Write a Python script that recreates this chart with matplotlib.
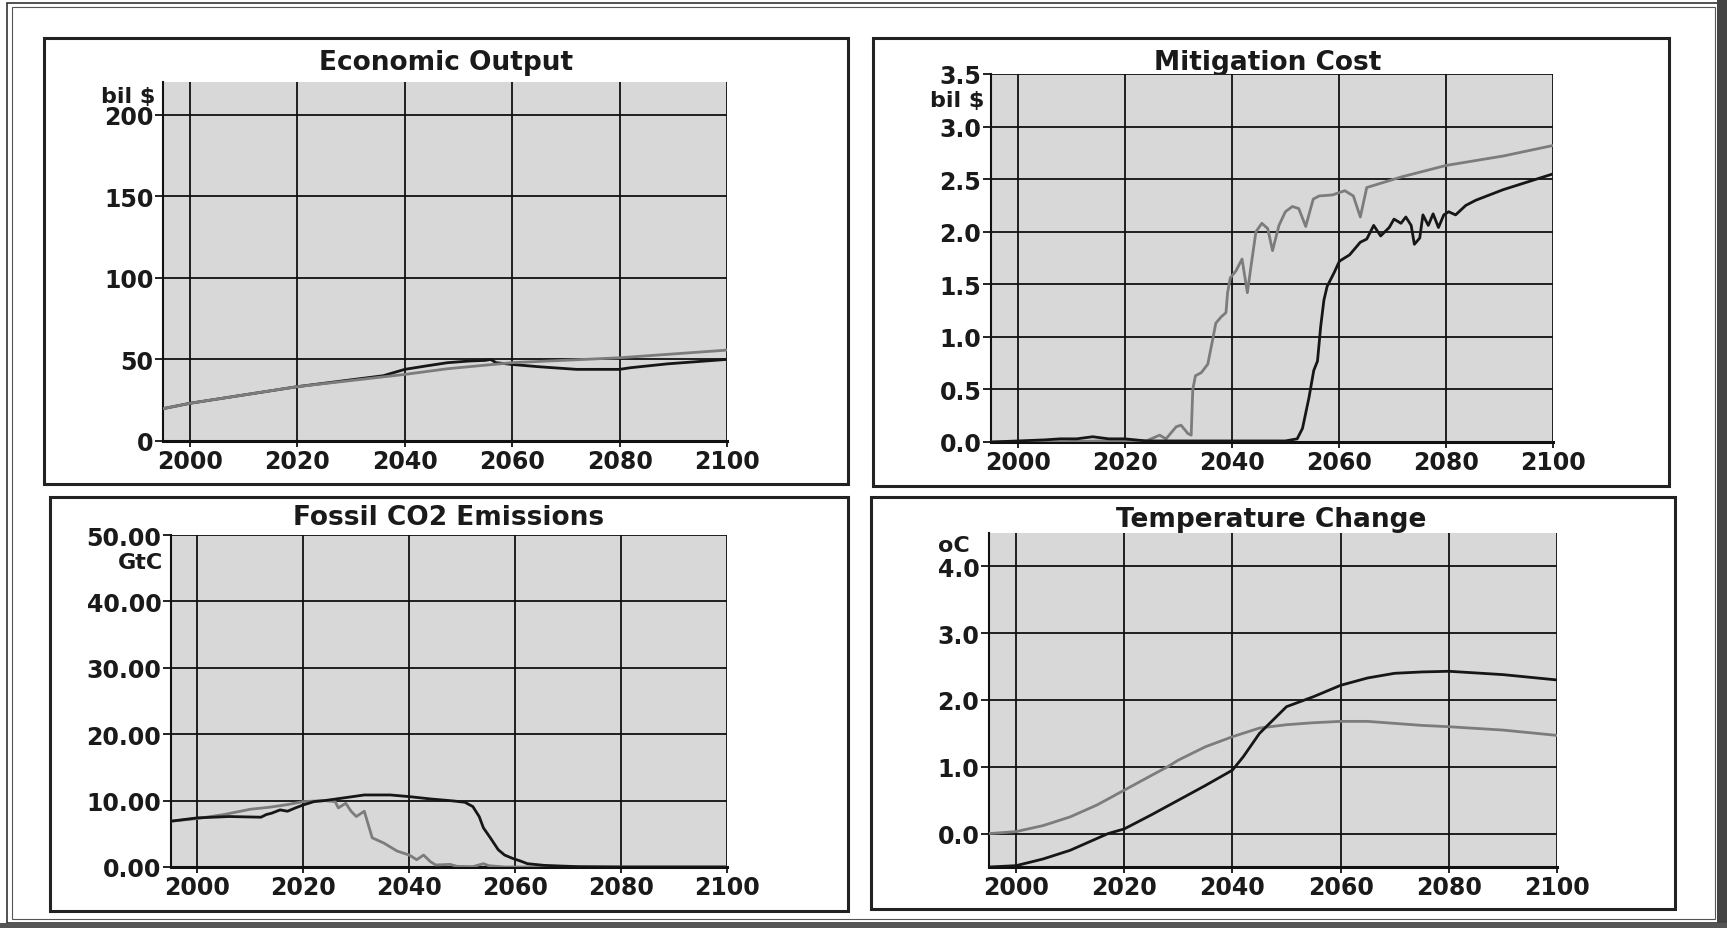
import matplotlib
matplotlib.use("Agg")
import matplotlib.pyplot as plt
from matplotlib.patches import Rectangle

# ---------------- data ----------------
xticks = [2000, 2020, 2040, 2060, 2080, 2100]

# Economic Output (bil $)
eco_gray_years = [1995, 2000, 2020, 2040, 2048, 2060, 2080, 2100]
eco_gray = [19.8, 23.1, 33.3, 40.8, 44.3, 48.0, 51.0, 55.7]
eco_black_years = [1995, 2000, 2020, 2036, 2040, 2044, 2048, 2052, 2055, 2056, 2057,
                   2060, 2065, 2072, 2080, 2082, 2089, 2100]
eco_black = [19.8, 23.1, 33.3, 40.0, 43.9, 46.0, 48.0, 49.0, 49.4, 50.0, 48.0,
             46.9, 45.5, 43.9, 43.9, 44.9, 47.3, 50.0]
eco_yticks = [0, 50, 100, 150, 200]
eco_ylabels = ["0", "50", "100", "150", "200"]

# Mitigation Cost (bil $)
mit_gray_years = [1995, 2005, 2015, 2024, 2026.5, 2027.7, 2029.6, 2030.5, 2031.8, 2032.4,
                  2032.7, 2033.2, 2034.3, 2035.5, 2036.4, 2037, 2038, 2038.9, 2039.2,
                  2039.7, 2040.8, 2041.9, 2042.9, 2043.6, 2044.5, 2045.6, 2046.7, 2047.6,
                  2048.8, 2050, 2051.3, 2052.5, 2053.8, 2055.2, 2056.3, 2058.8, 2061.1,
                  2062.7, 2064, 2065.2, 2071.6, 2080, 2090.7, 2100]
mit_gray = [0.0, 0.0, 0.01, 0.01, 0.065, 0.03, 0.145, 0.16, 0.08, 0.065,
            0.5, 0.63, 0.66, 0.74, 0.97, 1.13, 1.19, 1.23, 1.42,
            1.56, 1.63, 1.74, 1.42, 1.68, 2.0, 2.08, 2.03, 1.82,
            2.06, 2.19, 2.24, 2.22, 2.05, 2.31, 2.34, 2.35, 2.39,
            2.34, 2.14, 2.42, 2.52, 2.63, 2.72, 2.82]
mit_black_years = [1995, 2000, 2005, 2008, 2011, 2014, 2017, 2020, 2024, 2030, 2040, 2050,
                   2052.2, 2053.2, 2054.4, 2055.3, 2056, 2056.6, 2057.2, 2057.8, 2059.1,
                   2060.1, 2062, 2064, 2065.2, 2066.5, 2067.8, 2069.4, 2070.3, 2071.6,
                   2072.5, 2073.5, 2074.1, 2075.1, 2075.7, 2076.7, 2077.6, 2078.6, 2079.6,
                   2080.5, 2081.8, 2083.7, 2085.6, 2090.7, 2100]
mit_black = [0.0, 0.01, 0.02, 0.03, 0.03, 0.05, 0.03, 0.03, 0.01, 0.01, 0.01, 0.01,
             0.03, 0.13, 0.42, 0.68, 0.77, 1.1, 1.35, 1.48, 1.61,
             1.72, 1.78, 1.9, 1.93, 2.06, 1.96, 2.04, 2.12, 2.08,
             2.14, 2.06, 1.88, 1.94, 2.16, 2.06, 2.17, 2.04, 2.16,
             2.19, 2.16, 2.25, 2.3, 2.4, 2.55]
mit_yticks = [0.0, 0.5, 1.0, 1.5, 2.0, 2.5, 3.0, 3.5]
mit_ylabels = ["0.0", "0.5", "1.0", "1.5", "2.0", "2.5", "3.0", "3.5"]

# Fossil CO2 Emissions (GtC)
co2_gray_years = [1995, 2000, 2005, 2010, 2013.6, 2017, 2020, 2024, 2026, 2026.6, 2028,
                  2029, 2030, 2031.5, 2033, 2035.2, 2037.7, 2040, 2041.4, 2042.7, 2044,
                  2045, 2047.7, 2049, 2052, 2054, 2055, 2058, 2100]
co2_gray = [6.9, 7.3, 7.9, 8.7, 9.0, 9.4, 9.85, 10.0, 9.85, 8.9, 9.6,
            8.4, 7.6, 8.4, 4.4, 3.6, 2.4, 1.8, 1.1, 1.8, 0.8,
            0.3, 0.4, 0.1, 0.05, 0.5, 0.2, 0.0, 0.0]
co2_black_years = [1995, 2000, 2006, 2012, 2013, 2014, 2015.6, 2017, 2018.5, 2020, 2022,
                   2024, 2028, 2031.5, 2036.4, 2040, 2044, 2048.3, 2050.5, 2052, 2053.2,
                   2054, 2055.3, 2056.8, 2058, 2059.5, 2061, 2062.3, 2065.4, 2068.5,
                   2072, 2080, 2100]
co2_black = [6.9, 7.4, 7.6, 7.5, 7.9, 8.1, 8.6, 8.4, 8.9, 9.35, 9.85,
             10.0, 10.45, 10.85, 10.85, 10.6, 10.25, 9.95, 9.75, 9.1, 7.6,
             5.9, 4.4, 2.6, 1.8, 1.3, 0.9, 0.5, 0.25, 0.15,
             0.05, 0.0, 0.0]
co2_yticks = [0, 10, 20, 30, 40, 50]
co2_ylabels = ["0.00", "10.00", "20.00", "30.00", "40.00", "50.00"]

# Temperature Change (oC)
tmp_gray_years = [1995, 2000, 2005, 2010, 2015, 2020, 2025, 2028, 2030, 2035, 2040, 2045,
                  2050, 2055, 2060, 2065, 2070, 2075, 2080, 2090, 2100]
tmp_gray = [0.0, 0.03, 0.12, 0.25, 0.43, 0.65, 0.87, 1.0, 1.1, 1.3, 1.45, 1.58,
            1.63, 1.66, 1.68, 1.68, 1.65, 1.62, 1.6, 1.55, 1.47]
tmp_black_years = [1995, 2000, 2005, 2010, 2017, 2020, 2025, 2030, 2035, 2040, 2042, 2045,
                   2050, 2055, 2060, 2065, 2070, 2075, 2080, 2090, 2100]
tmp_black = [-0.5, -0.48, -0.38, -0.25, 0.0, 0.07, 0.28, 0.5, 0.72, 0.95, 1.15, 1.5,
             1.9, 2.05, 2.22, 2.33, 2.4, 2.42, 2.43, 2.38, 2.3]
tmp_yticks = [0.0, 1.0, 2.0, 3.0, 4.0]
tmp_ylabels = ["0.0", "1.0", "2.0", "3.0", "4.0"]

# ---------------- layout ----------------
W, H = 1727, 929
fig = plt.figure(figsize=(W / 100, H / 100), dpi=100)
fig.patch.set_facecolor("white")

FONT = "DejaVu Sans"
TXT = "#1a1a1a"
PLOT_BG = "#d8d8d8"
GRAY_LINE = "#7c7c7c"
BLACK_LINE = "#161616"
TICK_FS = 17

# background pixel-space axes for frames and titles
bg = fig.add_axes([0, 0, 1, 1])
bg.set_xlim(0, W)
bg.set_ylim(H, 0)
bg.axis("off")
bg.set_zorder(-5)

# outer frame
bg.add_patch(Rectangle((7, 4), W - 14, H - 9, fill=False, ec="#333333", lw=1.2))
bg.add_patch(Rectangle((12, 8), W - 24, H - 17, fill=False, ec="#555555", lw=0.8))
bg.add_patch(Rectangle((W - 10, 0), 10, H, fc="#444444", ec="none"))
bg.add_patch(Rectangle((0, H - 5), W, 5, fc="#555555", ec="none"))

# panel boxes (left, top, right, bottom) in pixels
boxes = [(44, 39, 848, 485), (873, 39, 1669, 487),
         (50, 498, 848, 912), (871, 498, 1675, 910)]
for (l, t, r, b) in boxes:
    bg.add_patch(Rectangle((l, t), r - l, b - t, fill=False, ec="#222222", lw=2.2))

titles = ["Economic Output", "Mitigation Cost", "Fossil CO2 Emissions", "Temperature Change"]
title_pos = [(446, 63), (1268, 63), (449, 518), (1271, 520)]
for s, (x, y) in zip(titles, title_pos):
    bg.text(x, y, s, ha="center", va="center", fontsize=19, fontweight="bold",
            family=FONT, color=TXT)

units = ["bil $", "bil $", "GtC", "oC"]
unit_pos = [(155, 97), (984, 101), (163, 563), (970, 546)]
for s, (x, y) in zip(units, unit_pos):
    bg.text(x, y, s, ha="right", va="center", fontsize=16, fontweight="bold",
            family=FONT, color=TXT)

# axes rectangles (left, top, right, bottom) in pixels
ax_rects = [(163, 83, 727, 442), (991, 75, 1553, 443),
            (171, 536, 727, 868), (989, 534, 1557, 868)]


def make_ax(rect):
    l, t, r, b = rect
    return fig.add_axes([l / W, 1 - b / H, (r - l) / W, (b - t) / H])


panels = [
    dict(gy=eco_gray_years, g=eco_gray, by=eco_black_years, b=eco_black,
         ylim=(0, 220), yt=eco_yticks, yl=eco_ylabels, gray_top=True),
    dict(gy=mit_gray_years, g=mit_gray, by=mit_black_years, b=mit_black,
         ylim=(0, 3.5), yt=mit_yticks, yl=mit_ylabels, gray_top=False),
    dict(gy=co2_gray_years, g=co2_gray, by=co2_black_years, b=co2_black,
         ylim=(0, 50), yt=co2_yticks, yl=co2_ylabels, gray_top=False),
    dict(gy=tmp_gray_years, g=tmp_gray, by=tmp_black_years, b=tmp_black,
         ylim=(-0.5, 4.5), yt=tmp_yticks, yl=tmp_ylabels, gray_top=False),
]

for rect, p in zip(ax_rects, panels):
    ax = make_ax(rect)
    ax.set_facecolor(PLOT_BG)
    ax.set_xlim(1995, 2100)
    ax.set_ylim(*p["ylim"])
    ax.set_xticks(xticks)
    ax.set_xticklabels([str(x) for x in xticks])
    ax.set_yticks(p["yt"])
    ax.set_yticklabels(p["yl"])
    ax.grid(True, color="#111111", lw=1.3)
    ax.set_axisbelow(True)
    for side in ["top", "right"]:
        ax.spines[side].set_visible(False)
    ax.spines["left"].set_linewidth(1.5)
    ax.spines["bottom"].set_linewidth(2.2)
    ax.spines["left"].set_color("#111111")
    ax.spines["bottom"].set_color("#111111")
    ax.tick_params(axis="both", colors="#111111", labelcolor=TXT, width=1.3)
    ax.tick_params(axis="x", length=4, pad=2)
    ax.tick_params(axis="y", length=6, pad=1)
    for lab in ax.get_xticklabels() + ax.get_yticklabels():
        lab.set_fontsize(TICK_FS)
        lab.set_fontweight("bold")
        lab.set_family(FONT)
    zg, zb = (4, 3) if p["gray_top"] else (3, 4)
    ax.plot(p["gy"], p["g"], color=GRAY_LINE, lw=2.0, zorder=zg, clip_on=True)
    ax.plot(p["by"], p["b"], color=BLACK_LINE, lw=2.0, zorder=zb, clip_on=True)

fig.savefig("out.png", dpi=100, facecolor=fig.get_facecolor())
